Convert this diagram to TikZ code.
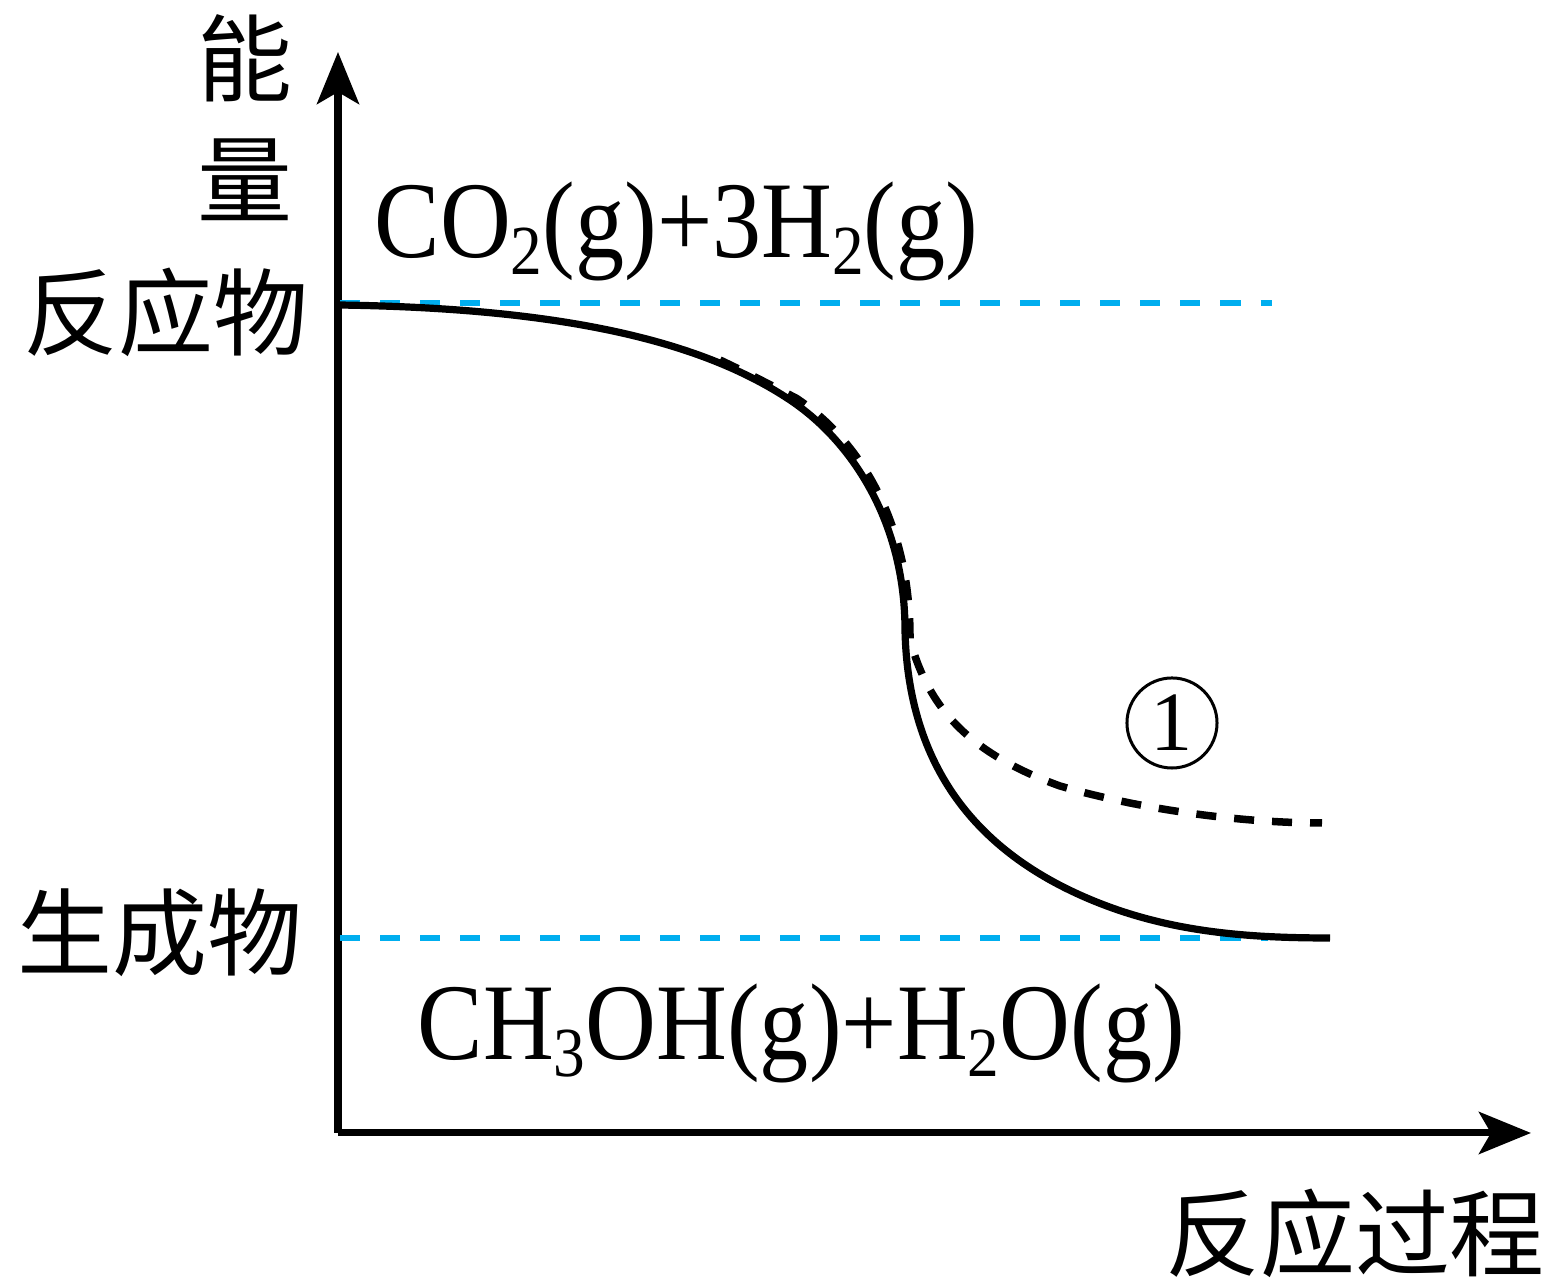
\documentclass[tikz,border=0pt]{standalone}
\usepackage{fontspec}
\setmainfont{Liberation Serif}
\newfontfamily\cjk{Noto Sans CJK SC}
\newfontfamily\chem[FakeStretch=0.9]{Liberation Serif}
\usetikzlibrary{arrows.meta}
\newcommand{\sub}[1]{\raisebox{-0.17cm}{\fontsize{20}{20}\selectfont #1}}

\begin{document}
\begin{tikzpicture}[x=0.01cm,y=-0.01cm,
    axis/.style={line width=0.07cm,-{Stealth[length=0.52cm,width=0.42cm,inset=0.12cm]}},
    level/.style={line width=0.055cm,color=levelblue,dash pattern=on 0.2cm off 0.2cm},
    curve/.style={line width=0.072cm},
    alt/.style={line width=0.075cm,dash pattern=on 0.2cm off 0.18cm},
    hanzi/.style={font=\cjk\fontsize{27}{27}\selectfont,inner sep=0pt},
    formula/.style={font=\chem\fontsize{31}{31}\selectfont,inner sep=0pt,anchor=base west}]
    \definecolor{levelblue}{HTML}{00AEEF}
    \useasboundingbox (0,0) rectangle (1562,1286);

    % ================= AXES =================
    \coordinate (O) at (338,1133);
    \coordinate (ytip) at (338,52);
    \coordinate (xtip) at (1531,1133);
    \draw[axis] (O) -- (ytip);
    \draw[axis] (O) -- (xtip);

    % energy levels of reactants and products
    \coordinate (R) at (340,303);
    \coordinate (Rend) at (1272,303);
    \coordinate (P) at (340,938);
    \coordinate (Pend) at (1268,938);
    \draw[level] (R) -- (Rend);
    \draw[level] (P) -- (Pend);

    % reaction path (solid)
    \draw[curve] (338,305) .. controls (560,308) and (700,340) .. (790,400)
        .. controls (850,440) and (905,520) .. (905,630)
        .. controls (908,770) and (980,850) .. (1080,895)
        .. controls (1160,931) and (1240,938) .. (1330,938);

    % reaction path (dashed, curve 1)
    \draw[alt] (720,360) .. controls (760,379) and (782,391) .. (796,398)
        .. controls (857,438) and (911,520) .. (910,640)
        .. controls (928,705) and (965,752) .. (1060,786)
        .. controls (1150,812) and (1250,823) .. (1322,823);

    % Labels
    \node[hanzi] (neng) at (245,58) {能};
    \node[hanzi] (liang) at (245,180) {量};
    \node[hanzi] (reactant) at (166,312) {反应物};
    \node[hanzi] (product) at (160,933) {生成物};
    \node[hanzi] (process) at (1355,1233) {反应过程};

    \node[formula] (co2) at (374,258) {CO\sub{2}(g)+3H\sub{2}(g)};
    \node[formula] (ch3oh) at (417,1060) {CH\sub{3}OH(g)+H\sub{2}O(g)};

    \node[circle,draw,line width=0.03cm,minimum size=0.9cm,inner sep=0pt,
        font=\fontsize{24}{24}\selectfont] (one) at (1172,723) {1};
\end{tikzpicture}
\end{document}
